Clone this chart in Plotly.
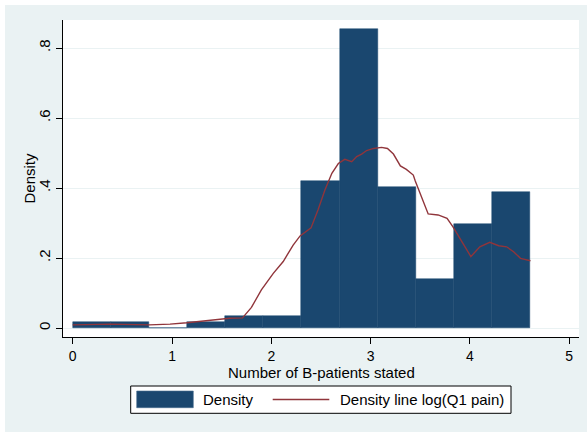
import plotly.graph_objects as go

# ---- data ----
bin_edges = [0.0, 0.384, 0.768, 1.151, 1.535, 1.919, 2.303, 2.687, 3.070, 3.454, 3.838, 4.222, 4.605]
density = [0.018, 0.018, 0.0, 0.018, 0.033, 0.033, 0.420, 0.853, 0.404, 0.140, 0.297, 0.388]

kde_x = [0.00, 0.38, 0.77, 0.98, 1.15, 1.32, 1.48, 1.58, 1.71, 1.80, 1.90, 2.02, 2.12, 2.22,
         2.29, 2.40, 2.47, 2.54, 2.61, 2.675, 2.74, 2.81, 2.86, 2.91, 2.96, 3.03, 3.11, 3.17,
         3.23, 3.30, 3.36, 3.43, 3.45, 3.51, 3.58, 3.68, 3.77, 3.83, 3.92, 4.01, 4.10, 4.20,
         4.29, 4.37, 4.44, 4.51, 4.61]
kde_y = [0.009, 0.011, 0.009, 0.011, 0.015, 0.020, 0.025, 0.028, 0.029, 0.059, 0.109, 0.156,
         0.190, 0.237, 0.263, 0.286, 0.337, 0.394, 0.442, 0.470, 0.482, 0.475, 0.490, 0.497,
         0.507, 0.513, 0.516, 0.513, 0.497, 0.463, 0.453, 0.437, 0.420, 0.375, 0.326, 0.323,
         0.313, 0.289, 0.247, 0.204, 0.232, 0.245, 0.235, 0.232, 0.218, 0.199, 0.192]

x_ticks = [0, 1, 2, 3, 4, 5]
y_ticks = [0, 0.2, 0.4, 0.6, 0.8]
y_tick_labels = ["0", ".2", ".4", ".6", ".8"]

x_title = "Number of B-patients stated"
y_title = "Density"
legend_bar = "Density"
legend_line = "Density line log(Q1 pain)"

# ---- styling ----
NAVY = "#1A476F"
MAROON = "#90353B"
BG = "#EAF2F3"
FONT = "Liberation Sans, Arial, sans-serif"
FS = 15
TFS = 14

W, H = 587, 432
L, R, T, B = 63, 8, 20, 95
PW, PH = W - L - R, H - T - B


def px_x(p):
    return (p - L) / PW


def px_y(p):
    return (H - B - p) / PH


centers = [(a + b) / 2 for a, b in zip(bin_edges[:-1], bin_edges[1:])]
widths = [b - a for a, b in zip(bin_edges[:-1], bin_edges[1:])]

fig = go.Figure()
fig.add_trace(go.Bar(
    x=centers, y=density, width=widths,
    marker=dict(color=NAVY, line=dict(color=NAVY, width=0.5)),
    name=legend_bar, showlegend=False, hoverinfo="skip",
))
fig.add_trace(go.Scatter(
    x=kde_x, y=kde_y, mode="lines",
    line=dict(color=MAROON, width=1.4),
    name=legend_line, showlegend=False, hoverinfo="skip",
))

shapes = []
# white edge strips on the top/left of the outer region
shapes.append(dict(type="rect", xref="paper", yref="paper", x0=px_x(0), x1=px_x(5),
                   y0=px_y(H), y1=px_y(0), fillcolor="white", line=dict(width=0), layer="above"))
shapes.append(dict(type="rect", xref="paper", yref="paper", x0=px_x(0), x1=px_x(W),
                   y0=px_y(5), y1=px_y(0), fillcolor="white", line=dict(width=0), layer="above"))
# legend box
shapes.append(dict(type="rect", xref="paper", yref="paper", x0=px_x(130.7), x1=px_x(511),
                   y0=px_y(413.3), y1=px_y(386), fillcolor="white",
                   line=dict(color="black", width=1), layer="above"))
# legend bar swatch
shapes.append(dict(type="rect", xref="paper", yref="paper", x0=px_x(136.7), x1=px_x(193.3),
                   y0=px_y(407.7), y1=px_y(391), fillcolor=NAVY,
                   line=dict(color="#4a6f8f", width=0.6), layer="above"))
# legend line swatch
shapes.append(dict(type="line", xref="paper", yref="paper", x0=px_x(272.7), x1=px_x(329.3),
                   y0=px_y(399.5), y1=px_y(399.5), line=dict(color=MAROON, width=1.4),
                   layer="above"))

annotations = [
    dict(text=legend_bar, xref="paper", yref="paper", x=px_x(201), y=px_y(399.5),
         xanchor="left", yanchor="middle", showarrow=False,
         font=dict(family=FONT, size=FS, color="black")),
    dict(text=legend_line, xref="paper", yref="paper", x=px_x(337.5), y=px_y(399.5),
         xanchor="left", yanchor="middle", showarrow=False,
         font=dict(family=FONT, size=FS, color="black")),
    dict(text=x_title, xref="paper", yref="paper", x=px_x(321), y=px_y(372.5),
         xanchor="center", yanchor="middle", showarrow=False,
         font=dict(family=FONT, size=FS, color="black")),
    dict(text=y_title, xref="paper", yref="paper", x=px_x(29), y=px_y(178.5),
         xanchor="center", yanchor="middle", showarrow=False, textangle=-90,
         font=dict(family=FONT, size=FS, color="black")),
]

fig.update_layout(
    width=W, height=H,
    margin=dict(l=L, r=R, t=T, b=B, autoexpand=False),
    paper_bgcolor=BG, plot_bgcolor="white",
    font=dict(family=FONT, size=FS, color="black"),
    bargap=0, showlegend=False, hovermode=False,
    shapes=shapes, annotations=annotations,
    xaxis=dict(
        range=[-0.098, 5.099], tickvals=x_ticks, ticktext=[str(v) for v in x_ticks],
        showline=True, linecolor="black", linewidth=1,
        ticks="outside", ticklen=6, tickcolor="black", tickwidth=1,
        showgrid=False, zeroline=False, automargin=False,
        tickfont=dict(family=FONT, size=TFS),
    ),
    yaxis=dict(
        range=[-0.0257, 0.88], tickvals=y_ticks, ticktext=y_tick_labels, tickangle=-90,
        showline=True, linecolor="black", linewidth=1,
        ticks="outside", ticklen=6, tickcolor="black", tickwidth=1,
        showgrid=True, gridcolor=BG, gridwidth=1, zeroline=False, automargin=False,
        ticklabelstandoff=0,
        tickfont=dict(family=FONT, size=FS),
    ),
)

fig.write_html("out.html", config={"displayModeBar": False},
               post_script="document.body.style.margin='0';")
